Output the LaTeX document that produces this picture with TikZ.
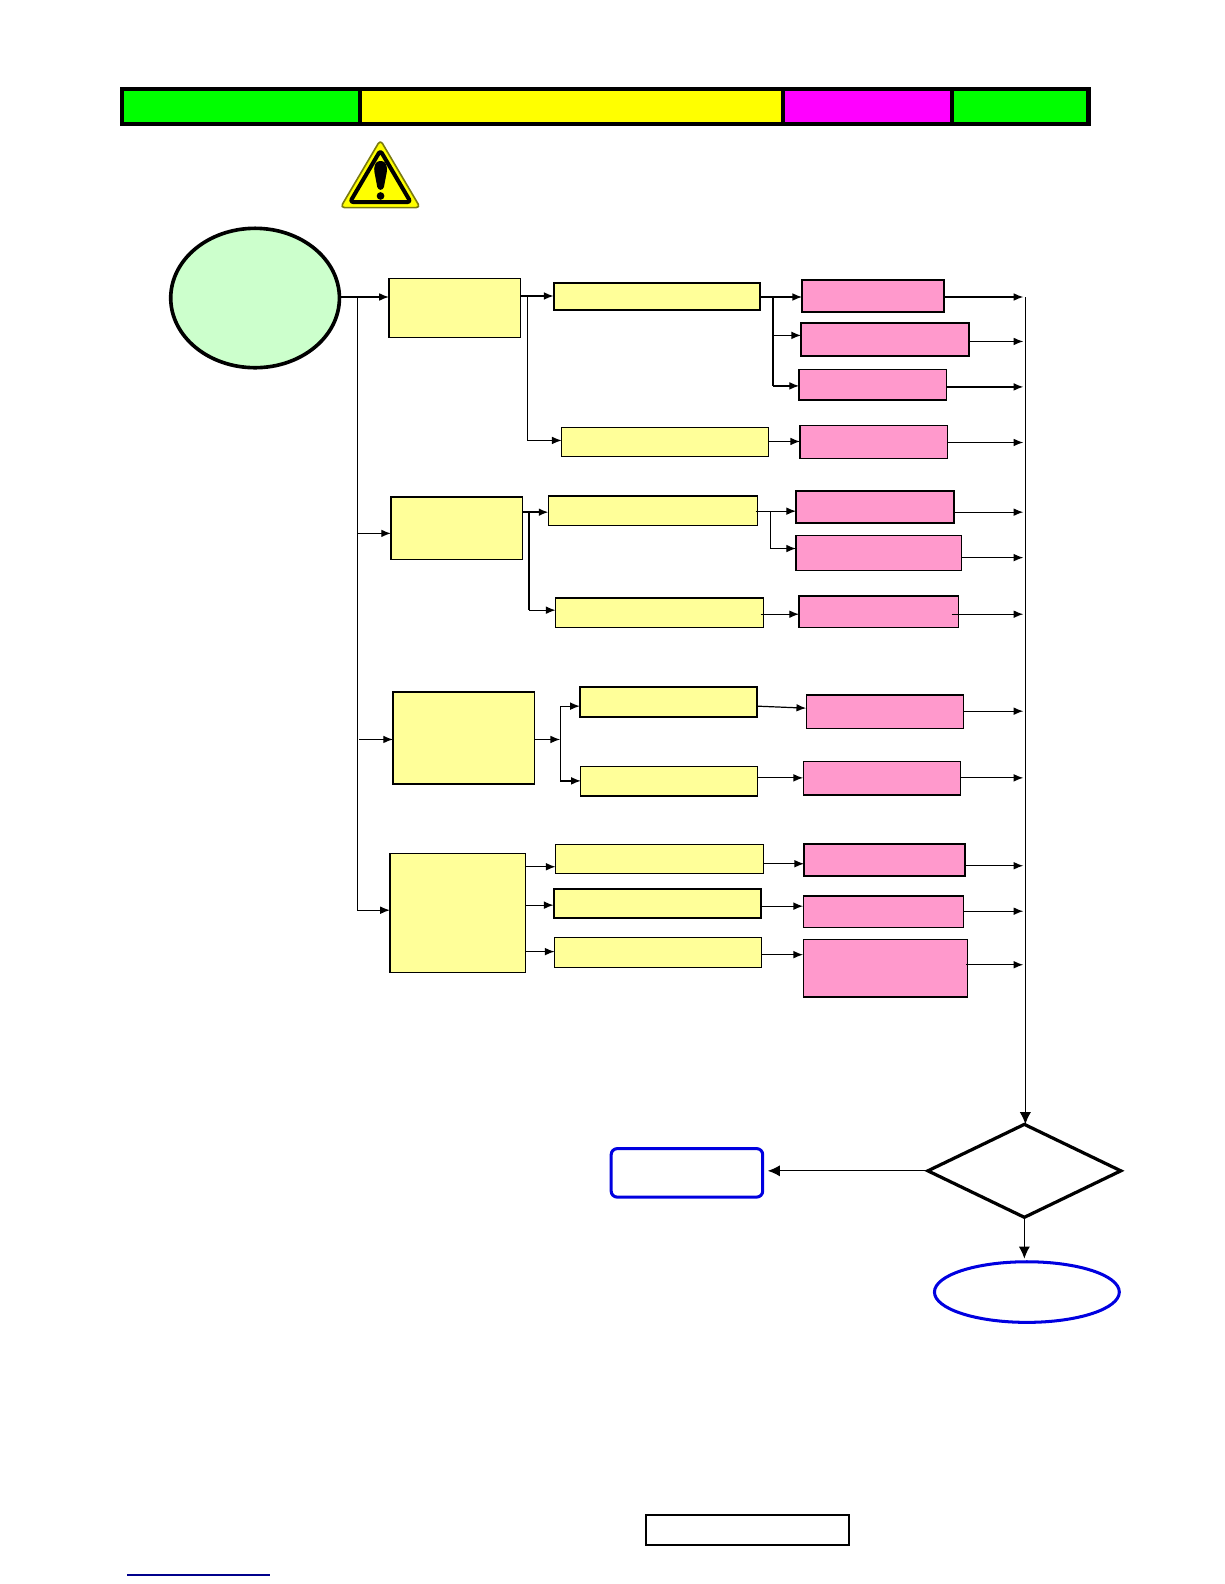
\documentclass[tikz,border=0pt]{standalone}
\usetikzlibrary{arrows.meta,shapes.geometric}
\definecolor{ly}{HTML}{FFFF99}
\definecolor{lp}{HTML}{FF99CC}
\definecolor{lg}{HTML}{CCFFCC}
\definecolor{bl}{HTML}{0000E0}
\definecolor{ol}{HTML}{7A7A10}
\definecolor{pg}{HTML}{00FF00}
\definecolor{py}{HTML}{FFFF00}
\definecolor{pm}{HTML}{FF00FF}
\tikzset{
  base/.style={rectangle,inner sep=0pt,outer sep=0pt,draw=black},
  yb/.style={base,fill=ly,line width=0.6pt},
  yt/.style={base,fill=ly,line width=1pt},
  pb/.style={base,fill=lp,line width=0.6pt},
  pt/.style={base,fill=lp,line width=1pt},
  hdr/.style={base,line width=2pt},
  conn/.style={draw=black,line width=0.6pt,-{Latex[length=4.8pt,width=3.8pt]}},
  cthick/.style={draw=black,line width=0.9pt,-{Latex[length=4.8pt,width=3.8pt]}},
  big/.style={draw=black,line width=0.6pt,-{Latex[length=6pt,width=5.5pt]}},
  line/.style={draw=black,line width=0.6pt},
  lthick/.style={draw=black,line width=1pt}
}
\newcommand{\bx}[6]{\node[#1,minimum width={(#5-#3)*0.5pt},minimum height={(#6-#4)*0.5pt}] (#2) at ({(#3+#5)/2},{(#4+#6)/2}) {};}
% horizontal arrow from node to node at row y
\newcommand{\ha}[4][conn]{\draw[#1] (#2.east |- 0,#4) -- (#3.west |- 0,#4);}
% horizontal arrow from a trunk coordinate to a node
\newcommand{\ta}[4][conn]{\draw[#1] (#2 |- 0,#4) -- (#3.west |- 0,#4);}
% arrow from a node to the right-hand bus
\newcommand{\ba}[3][0pt]{\draw[conn,shorten >=1pt,shorten <=#1] (#2.east |- 0,#3) -- (bus |- 0,#3);}
\begin{document}
\begin{tikzpicture}[x=0.5pt,y=-0.5pt]
\useasboundingbox (0,0) rectangle (1212,1568);
% header bar
\bx{hdr,fill=pg}{h1}{121}{88.5}{356}{122.5}
\bx{hdr,fill=py}{h2}{356}{88.5}{775}{122.5}
\bx{hdr,fill=pm}{h3}{775}{88.5}{942}{122.5}
\bx{hdr,fill=pg}{h4}{942}{88.5}{1077.5}{122.5}
% warning sign
\fill[py,draw=ol,line width=0.8pt,line join=round,rounded corners=2pt] (376.5,138.5) -- (416,205.5) -- (337,205.5) -- cycle;
\draw[black,line width=2pt,line join=round,rounded corners=1.5pt] (376.5,149) -- (406.5,200) -- (346.5,200) -- cycle;
\fill[black,rounded corners=1.5pt] (370,167) -- (372.5,159.5) -- (381,159.5) -- (383.5,167) -- (379.5,188) -- (374,188) -- cycle;
\fill[black] (376.7,194) circle (3.8);
% start
\node[ellipse,draw=black,fill=lg,line width=1.8pt,inner sep=0pt,outer sep=0pt,minimum width=83.5pt,minimum height=69pt] (E) at (252.5,295) {};
% group 1
\bx{yb}{A1}{385}{276}{515}{334}
\bx{yt}{A1a}{548}{280}{752}{307}
\bx{yb}{A1b}{556}{423}{761}{452}
\bx{pt}{P1}{794}{277}{934}{309}
\bx{pt}{P2}{793}{320}{959}{352}
\bx{yb,fill=lp}{P3}{791}{366}{937}{396}
\bx{pb}{P4}{792}{421}{938}{454}
% group 2
\bx{yb}{A2}{387}{492}{517}{554}
\bx{yb}{A2a}{543}{491}{750}{520}
\bx{yb}{A2b}{550}{592}{756}{621}
\bx{pt}{P5}{788}{486}{944}{518}
\bx{pb}{P6}{788}{530}{952}{565}
\bx{pb}{P7}{791}{590}{949}{621}
% group 3
\bx{yb}{A3}{389}{685}{529}{776}
\bx{yt}{A3a}{574}{680}{749}{710}
\bx{yb}{A3b}{575}{759}{750}{788}
\bx{pb}{P8}{798}{688}{954}{721}
\bx{pb}{P9}{795}{754}{951}{787}
% group 4
\bx{yb}{A4}{386}{845}{520}{963}
\bx{yb}{A4a}{550}{836}{756}{865}
\bx{yt}{A4b}{548}{880}{753}{909}
\bx{yb}{A4c}{549}{928}{754}{958}
\bx{pt}{P10}{796}{835}{955}{867}
\bx{pb}{P11}{795}{887}{954}{918}
\bx{pb}{P12}{795}{930}{958}{987}
% bottom shapes
\node[diamond,draw=black,line width=1.6pt,inner sep=0pt,outer sep=0pt,aspect=2.1,minimum width=95.5pt,minimum height=46pt] (D) at (1014,1159) {};
\bx{base,draw=bl,line width=1.5pt,rounded corners=3pt}{R}{605}{1137}{755}{1185}
\node[ellipse,draw=bl,line width=1.5pt,inner sep=0pt,outer sep=0pt,minimum width=91.5pt,minimum height=30pt] (F) at (1016.5,1279) {};
\bx{base,line width=1pt}{N}{639.5}{1500}{840.5}{1529}
\coordinate (u1) at (126,1559);
\coordinate (u2) at (267,1559);
\draw[draw=blue!55!black,line width=0.6pt] (u1) -- (u2);
% coordinates
\coordinate (bus) at (1015,294);
\coordinate (t0) at (353.5,294);
\coordinate (t4) at (353.5,902);
\coordinate (t3) at (355.5,732);
\coordinate (j1) at (522,293);
\coordinate (j2) at (765,294);
\coordinate (j3) at (523.5,507);
\coordinate (j4) at (763,506);
\coordinate (j5) at (554.5,699);
% main trunk
\draw[line] (t0) -- (t4);
\ha{E}{A1}{294}
\ta{t0}{A2}{528}
\ta{t3}{A3}{732}
\ta{t4}{A4}{901}
% group 1
\ha{A1}{A1a}{293}
\draw[line] (j1) -- (j1 |- 0,436);
\ta{j1}{A1b}{436}
\ha{A1a}{P1}{294}
\draw[lthick] (j2) -- (j2 |- 0,382);
\ta{j2}{P2}{332}
\ta{j2}{P3}{382}
\ha{A1b}{P4}{437}
\ba{P1}{294}
\ba{P2}{338}
\ba{P3}{383}
\ba{P4}{438}
% group 2
\ha[cthick]{A2}{A2a}{507}
\draw[lthick] (j3) -- (j3 |- 0,604);
\ta{j3}{A2b}{604}
\draw[conn,shorten <=-1pt] (A2a.east |- 0,506) -- (P5.west |- 0,506);
\draw[line] (j4) -- (j4 |- 0,543);
\ta{j4}{P6}{543}
\draw[conn,shorten <=-1.5pt] (A2b.east |- 0,608) -- (P7.west |- 0,608);
\ba{P5}{507}
\ba{P6}{552}
\ba[-3.5pt]{P7}{608}
% group 3
\draw[conn] (A3.east |- 0,732) -- (j5 |- 0,732);
\draw[line] (j5) -- (j5 |- 0,773);
\ta{j5}{A3a}{699}
\ta{j5}{A3b}{773}
\draw[conn] (A3a.east |- 0,699) -- (P8.west |- 0,701);
\ha{A3b}{P9}{770}
\ba{P8}{704}
\ba{P9}{770}
% group 4
\ha{A4}{A4a}{858}
\ha{A4}{A4b}{896}
\ha{A4}{A4c}{942}
\ha{A4a}{P10}{855}
\ha{A4b}{P11}{897}
\ha{A4c}{P12}{945}
\ba{P10}{857}
\ba{P11}{902}
\ba[-1pt]{P12}{955}
% exits
\draw[big] (bus) -- (D.north -| bus);
\draw[big] (D.west) -- ([xshift=2.5pt]R.east |- D.west);
\draw[big] (D.south) -- ([yshift=1.5pt]D.south |- F.north);
\end{tikzpicture}
\end{document}
